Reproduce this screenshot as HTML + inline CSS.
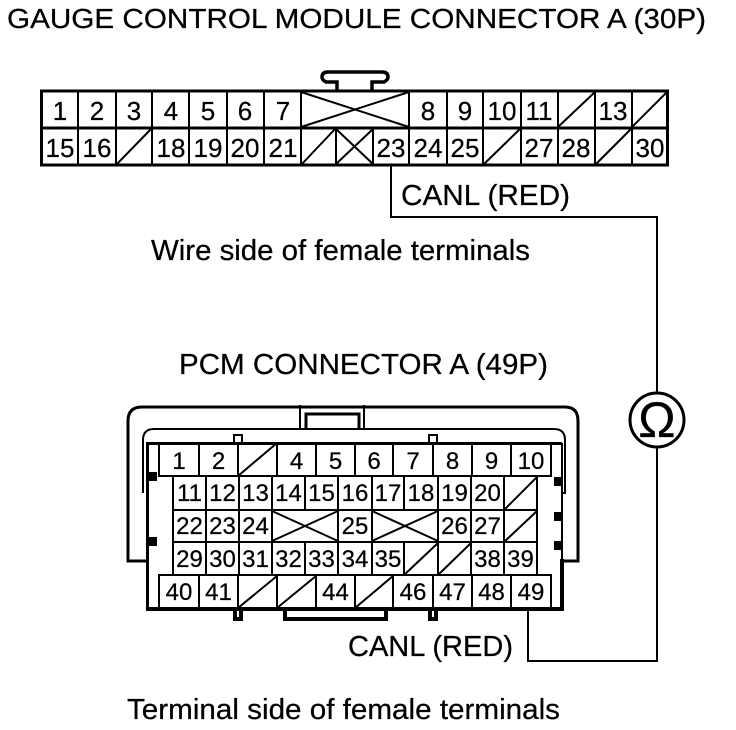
<!DOCTYPE html>
<html><head><meta charset="utf-8"><style>
html,body{margin:0;padding:0;background:#fff;width:736px;height:730px;overflow:hidden}
svg{display:block}
text{font-family:"Liberation Sans",Arial,sans-serif;fill:#000;stroke:#000;stroke-width:.25px}
.t{font-size:29px}
.h{font-size:28px}
.a text{font-size:26px;text-anchor:middle}
.b text{font-size:24px;text-anchor:middle}
.l{fill:none;stroke:#000}
</style></head><body>
<svg width="736" height="730" viewBox="0 0 736 730">
<rect width="736" height="730" fill="#fff"/>
<text class="h" x="7" y="28" textLength="699" lengthAdjust="spacingAndGlyphs">GAUGE CONTROL MODULE CONNECTOR A (30P)</text>
<text class="t" x="401" y="205" textLength="169" lengthAdjust="spacingAndGlyphs">CANL (RED)</text>
<text class="t" x="151" y="260" textLength="379" lengthAdjust="spacingAndGlyphs">Wire side of female terminals</text>
<text class="t" x="179" y="374" textLength="369" lengthAdjust="spacingAndGlyphs">PCM CONNECTOR A (49P)</text>
<text class="t" x="348" y="656" textLength="165" lengthAdjust="spacingAndGlyphs">CANL (RED)</text>
<text class="t" x="127" y="719" textLength="433" lengthAdjust="spacingAndGlyphs">Terminal side of female terminals</text>

<!-- top connector -->
<path class="l" stroke-width="3.500" d="M337 90V82H326Q322 80 322 77Q322 72 328 72H382Q388 72 388 77Q388 80 384 82H372V90"/>
<rect class="l" stroke-width="3" x="41.500" y="91" width="626" height="74"/>
<path class="l" stroke-width="3" d="M41 128H668"/>
<path class="l" stroke-width="2" d="M78 91V165M116 91V165M152 91V165M189 91V165M227 91V165M264 91V165M301 91V165M409 91V165M447 91V165M483 91V165M521 91V165M558 91V165M595 91V165M632 91V165M336 128V165M373 128V165"/>
<path class="l" stroke-width="2" d="M301 92L409 127M301 127L409 92M336 129L373 164M336 164L373 129M558 127L595 92M632 127L667 92M116 165L152 128M301 165L336 128M483 165L521 128M595 165L632 128"/>
<g class="a">
<text x="60" y="120">1</text><text x="97" y="120">2</text><text x="134" y="120">3</text><text x="171" y="120">4</text><text x="208" y="120">5</text><text x="245" y="120">6</text><text x="283" y="120">7</text><text x="428" y="120">8</text><text x="465" y="120">9</text><text x="502" y="120">10</text><text x="539" y="120">11</text><text x="613" y="120">13</text>
<text x="60" y="157">15</text><text x="97" y="157">16</text><text x="171" y="157">18</text><text x="208" y="157">19</text><text x="245" y="157">20</text><text x="283" y="157">21</text><text x="391" y="157">23</text><text x="428" y="157">24</text><text x="465" y="157">25</text><text x="539" y="157">27</text><text x="576" y="157">28</text><text x="650" y="157">30</text>
</g>

<!-- wires -->
<path class="l" stroke-width="2" d="M391 165V217H657V393M657 447V661H528V608"/>
<circle class="l" stroke-width="3" cx="657" cy="420" r="27"/>
<text x="657" y="437" font-size="50" text-anchor="middle">Ω</text>

<!-- lower connector shell -->
<path class="l" stroke-width="3" d="M147 561H128V421Q128 407 142 407H565Q578 407 578 421V561H562"/>
<path class="l" stroke-width="2" d="M143 493V440Q143 429 154 429H554Q565 429 565 440V493H562"/>
<path class="l" stroke-width="2" d="M300 405V429M364 405V429"/>
<path class="l" stroke-width="3" d="M306 429V414H359V429"/>
<path class="l" stroke-width="3" d="M147.500 608V443.500H562"/>
<path class="l" stroke-width="2" d="M562 443V561"/>
<path class="l" stroke-width="4" d="M562 559V609H146"/>
<rect class="l" stroke-width="2" x="234" y="435" width="8" height="9"/>
<rect class="l" stroke-width="2" x="429" y="435" width="8" height="9"/>
<path class="l" stroke-width="4" d="M285 609V619H386V609M235 609V619H241V609M430 609V619H436V609"/>
<rect x="148" y="472" width="9" height="9"/><rect x="148" y="537" width="9" height="9"/>
<rect x="554" y="477" width="8" height="9"/><rect x="554" y="512" width="8" height="9"/><rect x="554" y="541" width="8" height="9"/>

<!-- lower grid -->
<path class="l" stroke-width="2" d="M159 443V476H551V443M159 607V575H551V607M199 443V476M238 443V476M277 443V476M316 443V476M355 443V476M393 443V476M433 443V476M472 443V476M511 443V476M199 575V608M238 575V608M277 575V608M316 575V608M355 575V608M393 575V608M433 575V608M472 575V608M511 575V608"/>
<path class="l" stroke-width="2" d="M173 510H537M173 542H537M173 476V575M206 476V575M239 476V575M272 476V575M305 476V510M305 542V575M338 476V575M372 476V575M404 476V510M404 542V575M438 476V575M471 476V575M504 476V575M537 476V575"/>
<path class="l" stroke-width="2" d="M238 476L277 443M504 510L537 477M504 542L537 511M404 575L438 543M438 575L471 543M238 608L277 576M277 608L316 576M355 608L393 576M272 511L338 541M272 541L338 511M372 511L438 541M372 541L438 511"/>
<g class="b">
<text x="179" y="469">1</text><text x="218.500" y="469">2</text><text x="296.500" y="469">4</text><text x="335.500" y="469">5</text><text x="374" y="469">6</text><text x="413" y="469">7</text><text x="452.500" y="469">8</text><text x="491.500" y="469">9</text><text x="531" y="469">10</text>
<text x="189.500" y="501">11</text><text x="222.500" y="501">12</text><text x="255.500" y="501">13</text><text x="288.500" y="501">14</text><text x="321.500" y="501">15</text><text x="355" y="501">16</text><text x="388" y="501">17</text><text x="421" y="501">18</text><text x="454.500" y="501">19</text><text x="487.500" y="501">20</text>
<text x="189.500" y="534">22</text><text x="222.500" y="534">23</text><text x="255.500" y="534">24</text><text x="355" y="534">25</text><text x="454.500" y="534">26</text><text x="487.500" y="534">27</text>
<text x="189.500" y="567">29</text><text x="222.500" y="567">30</text><text x="255.500" y="567">31</text><text x="288.500" y="567">32</text><text x="321.500" y="567">33</text><text x="355" y="567">34</text><text x="388" y="567">35</text><text x="487.500" y="567">38</text><text x="520.500" y="567">39</text>
<text x="179" y="600">40</text><text x="218.500" y="600">41</text><text x="335.500" y="600">44</text><text x="413" y="600">46</text><text x="452.500" y="600">47</text><text x="491.500" y="600">48</text><text x="531" y="600">49</text>
</g>
</svg>
</body></html>
